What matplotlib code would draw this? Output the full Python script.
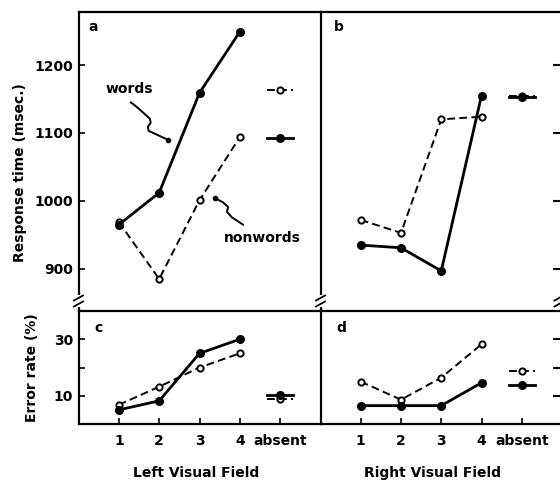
import matplotlib
matplotlib.use('Agg')
import matplotlib.pyplot as plt
from matplotlib.lines import Line2D

# ---------------- data ----------------
positions = [1, 2, 3, 4]
absent_pos = 5
x_labels = ['1', '2', '3', '4', 'absent']

rt_left_words = [965, 1012, 1159, 1249]
rt_left_nonwords = [969, 885, 1001, 1094]
rt_left_absent_words = 1092
rt_left_absent_nonwords = 1163

rt_right_words = [935, 931, 897, 1155]
rt_right_nonwords = [972, 953, 1120, 1124]
rt_right_absent_words = 1153
rt_right_absent_nonwords = 1155

err_left_words = [5.0, 8.2, 25.0, 30.0]
err_left_nonwords = [6.8, 13.2, 20.0, 25.0]
err_left_absent_words = 10.4
err_left_absent_nonwords = 9.0

err_right_words = [6.5, 6.5, 6.5, 14.6]
err_right_nonwords = [15.0, 8.6, 16.4, 28.2]
err_right_absent_words = 13.9
err_right_absent_nonwords = 18.9

rt_ticks = [900, 1000, 1100, 1200]
err_ticks = [10, 20, 30]
err_tick_labels = ['10', '', '30']

# annotation squiggles (data coords of panel a)
words_squiggle_x = [1.30, 1.45, 1.62, 1.77, 1.79, 1.72, 1.74, 1.89, 2.07, 2.22]
words_squiggle_y = [1145, 1138, 1129, 1121, 1115, 1109, 1103, 1099, 1094, 1090]
nonwords_squiggle_x = [3.39, 3.58, 3.71, 3.68, 3.80, 4.08]
nonwords_squiggle_y = [1004, 998, 991, 984, 976, 965]

# ---------------- figure ----------------
W, H = 560, 482
plt.rcParams['font.family'] = ['DejaVu Sans']
plt.rcParams['font.weight'] = 'bold'
fig = plt.figure(figsize=(W / 100, H / 100), dpi=100)

def frac(x0, y0, x1, y1):
    return [x0 / W, 1 - y1 / H, (x1 - x0) / W, (y1 - y0) / H]

ax_a = fig.add_axes(frac(78.5, 12, 320.5, 311))
ax_b = fig.add_axes(frac(320.5, 12, 560, 311))
ax_c = fig.add_axes(frac(78.5, 311, 320.5, 424))
ax_d = fig.add_axes(frac(320.5, 311, 560, 424))

SPW = 1.6
solid_kw = dict(color='black', lw=2.0, marker='o', ms=5.5, mfc='black', mec='black', zorder=3)
dash_kw = dict(color='black', lw=1.4, ls=(0, (4, 2.2)), marker='o', ms=4.5, mfc='white',
               mec='black', mew=1.4, zorder=3)

def absent(ax, y, kw):
    k = dict(kw)
    ax.plot([absent_pos - 0.32, absent_pos + 0.32], [y, y], **{kk: v for kk, v in k.items()
                                                              if kk not in ('marker', 'ms', 'mfc', 'mec', 'mew')})
    ax.plot([absent_pos], [y], ls='none', **{kk: v for kk, v in k.items() if kk not in ('ls', 'lw', 'color')})

for ax in (ax_a, ax_b, ax_c, ax_d):
    for s in ax.spines.values():
        s.set_linewidth(SPW)
    ax.spines['right'].set_visible(False)

for ax in (ax_a, ax_b):
    ax.set_ylim(838, 1278)
    ax.spines['bottom'].set_visible(False)
    ax.set_xticks([])
for ax in (ax_c, ax_d):
    ax.set_ylim(0, 40)
    ax.set_xticks(positions + [absent_pos])
    ax.set_xticklabels(x_labels, fontsize=10, fontweight='bold')
    ax.tick_params(axis='x', direction='in', length=4, width=1.2, pad=7)

ax_a.set_xlim(0, 6)
ax_c.set_xlim(0, 6)
ax_b.set_xlim(0, 5.95)
ax_d.set_xlim(0, 5.95)

ax_a.set_yticks(rt_ticks)
ax_a.set_yticklabels([str(t) for t in rt_ticks], fontsize=10, fontweight='bold')
ax_a.tick_params(axis='y', direction='in', length=4, width=1.2, pad=4)
ax_c.set_yticks(err_ticks)
ax_c.set_yticklabels(err_tick_labels, fontsize=10, fontweight='bold')
ax_c.tick_params(axis='y', direction='in', length=4, width=1.2, pad=4)

ax_b.set_yticks(rt_ticks)
ax_b.yaxis.tick_right()
ax_b.tick_params(axis='y', direction='in', length=5, width=1.5, labelright=False)
ax_d.set_yticks(err_ticks)
ax_d.yaxis.tick_right()
ax_d.tick_params(axis='y', direction='in', length=5, width=1.5, labelright=False)

# panel a
ax_a.plot(positions, rt_left_nonwords, **dash_kw)
ax_a.plot(positions, rt_left_words, **solid_kw)
absent(ax_a, rt_left_absent_nonwords, dash_kw)
absent(ax_a, rt_left_absent_words, solid_kw)
ax_a.plot(words_squiggle_x, words_squiggle_y, color='black', lw=1.4)
ax_a.plot(words_squiggle_x[-1:], words_squiggle_y[-1:], 'o', color='black', ms=3)
ax_a.plot(nonwords_squiggle_x, nonwords_squiggle_y, color='black', lw=1.4)
ax_a.plot(nonwords_squiggle_x[:1], nonwords_squiggle_y[:1], 'o', color='black', ms=3)
ax_a.text(1.27, 1165, 'words', ha='center', va='center', fontsize=10, fontweight='bold')
ax_a.text(4.55, 946, 'nonwords', ha='center', va='center', fontsize=10, fontweight='bold')

# panel b
ax_b.plot(positions, rt_right_nonwords, **dash_kw)
ax_b.plot(positions, rt_right_words, **solid_kw)
absent(ax_b, rt_right_absent_nonwords, dash_kw)
absent(ax_b, rt_right_absent_words, solid_kw)

# panel c
ax_c.plot(positions, err_left_nonwords, **dash_kw)
ax_c.plot(positions, err_left_words, **solid_kw)
absent(ax_c, err_left_absent_nonwords, dash_kw)
absent(ax_c, err_left_absent_words, solid_kw)

# panel d
ax_d.plot(positions, err_right_nonwords, **dash_kw)
ax_d.plot(positions, err_right_words, **solid_kw)
absent(ax_d, err_right_absent_nonwords, dash_kw)
absent(ax_d, err_right_absent_words, solid_kw)

# panel letters
ax_a.text(0.04, 0.95, 'a', transform=ax_a.transAxes, fontsize=10, fontweight='bold', va='center')
ax_b.text(0.055, 0.95, 'b', transform=ax_b.transAxes, fontsize=10, fontweight='bold', va='center')
ax_c.text(0.065, 0.85, 'c', transform=ax_c.transAxes, fontsize=10, fontweight='bold', va='center')
ax_d.text(0.065, 0.85, 'd', transform=ax_d.transAxes, fontsize=10, fontweight='bold', va='center')

# axis titles
fig.text(20 / W, 1 - 173 / H, 'Response time (msec.)', rotation=90, ha='center', va='center',
         fontsize=10, fontweight='bold')
fig.text(32 / W, 1 - 368 / H, 'Error rate (%)', rotation=90, ha='center', va='center',
         fontsize=10, fontweight='bold')
fig.text(196 / W, 1 - 473 / H, 'Left Visual Field', ha='center', va='center', fontsize=10, fontweight='bold')
fig.text(432 / W, 1 - 473 / H, 'Right Visual Field', ha='center', va='center', fontsize=10, fontweight='bold')

# axis break marks
def pt(x, y):
    return (x / W, 1 - y / H)

for bx in (78.5, 320.5, 559):
    gx = [pt(bx, 297)[0], pt(bx, 305)[0]]
    gy = [pt(bx, 297)[1], pt(bx, 305)[1]]
    fig.add_artist(Line2D(gx, gy, color='white', lw=3, transform=fig.transFigure, zorder=10))
    for yy in (298, 304):
        p0 = pt(bx - 4.5, yy + 2.5)
        p1 = pt(bx + 4.5, yy - 2.5)
        fig.add_artist(Line2D([p0[0], p1[0]], [p0[1], p1[1]], color='black', lw=1.3,
                              transform=fig.transFigure, zorder=11))

fig.savefig('out.png', dpi=100)
